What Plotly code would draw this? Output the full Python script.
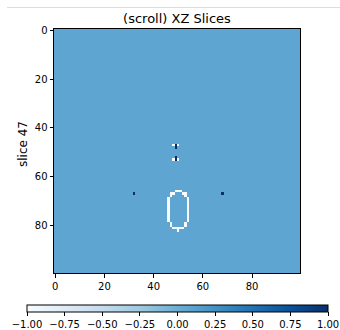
import numpy as np
import plotly.graph_objects as go

# ---- data ----
grid_size = 100
background_value = 0.08
white_value = -1.0
dark_value = 1.0

# (row, col) cells
white_cells = [
    (47, 48), (47, 50), (53, 48), (53, 50),
    (66, 49), (66, 50), (66, 51),
    (67, 47), (67, 48), (67, 52), (67, 53),
    (68, 47), (68, 53),
    (69, 46), (69, 54), (70, 46), (70, 54), (71, 46), (71, 54),
    (72, 46), (72, 54), (73, 46), (73, 54), (74, 46), (74, 54),
    (75, 46), (75, 54), (76, 46), (76, 54), (77, 46), (77, 54),
    (78, 46), (78, 54),
    (79, 47), (79, 53),
    (80, 47), (80, 53),
    (81, 48), (81, 49), (81, 50), (81, 51), (81, 52),
    (82, 50),
]
dark_cells = [
    (47, 49), (48, 49), (52, 49), (53, 49),
    (67, 32), (67, 68),
]

axis_ticks = [0, 20, 40, 60, 80]
cbar_ticks = [-1.0, -0.75, -0.5, -0.25, 0.0, 0.25, 0.5, 0.75, 1.0]
cbar_ticktext = [("\u2212" if v < 0 else "") + f"{abs(v):.2f}" for v in cbar_ticks]

z = np.full((grid_size, grid_size), background_value)
for r, c in white_cells:
    z[r, c] = white_value
for r, c in dark_cells:
    z[r, c] = dark_value

blues = [
    [0.0, "#f7fbff"], [0.125, "#deebf7"], [0.25, "#c6dbef"], [0.375, "#9ecae1"],
    [0.5, "#6baed6"], [0.625, "#4292c6"], [0.75, "#2171b5"], [0.875, "#08519c"],
    [1.0, "#08306b"],
]

FONT = "DejaVu Sans"

# figure fills the whole page (body margin removed below)
W, H = 340, 330
L, R, T, B = 54, 300, 29, 273   # plot area in pixels
PW, PH = R - L, B - T

def px(xf):
    return (xf - L) / PW

def py(yf):
    return (B - yf) / PH

fig = go.Figure(go.Heatmap(
    z=z,
    x=list(range(grid_size)),
    y=list(range(grid_size)),
    zmin=-1, zmax=1,
    colorscale=blues,
    colorbar=dict(
        orientation="h",
        x=px((27 + 328) / 2), xanchor="center",
        y=py(305), yanchor="top",
        len=301, lenmode="pixels",
        thickness=7, thicknessmode="pixels",
        xpad=0, ypad=0,
        outlinecolor="black", outlinewidth=1,
        tickvals=cbar_ticks, ticktext=cbar_ticktext,
        ticks="outside", ticklen=3.5, tickcolor="black",
        tickfont=dict(family=FONT, size=10, color="black"),
    ),
    hoverinfo="skip",
))

axis_common = dict(
    showgrid=False, zeroline=False,
    showline=True, linecolor="black", linewidth=1, mirror=True,
    ticks="outside", ticklen=3.5, tickcolor="black",
    tickvals=axis_ticks, ticktext=[str(t) for t in axis_ticks],
    tickfont=dict(family=FONT, size=10, color="black"),
    automargin=False,
)

fig.update_layout(
    width=W, height=H,
    margin=dict(l=L, r=W - R, t=T, b=H - B, autoexpand=False),
    paper_bgcolor="white", plot_bgcolor="white",
    xaxis=dict(range=[-0.5, 99.5], **axis_common),
    yaxis=dict(range=[99.5, -0.5], **axis_common),
    title=dict(text="(scroll) XZ Slices", x=177 / W, xanchor="center",
               y=1 - 18 / H, yanchor="middle",
               font=dict(family=FONT, size=13, color="black")),
    annotations=[dict(
        text="slice 47", textangle=-90, showarrow=False,
        xref="paper", yref="paper",
        x=px(23), y=py(144),
        xanchor="center", yanchor="middle",
        font=dict(family=FONT, size=12, color="black"),
    )],
    shapes=[dict(
        type="line", xref="paper", yref="paper",
        x0=px(7), x1=px(W),
        y0=py(7.5), y1=py(7.5),
        line=dict(color="#dddddd", width=1),
    )],
)

fig.write_html(
    "out.html",
    config={"displayModeBar": False},
    post_script="document.body.style.margin='0';document.body.style.overflow='hidden';",
)
